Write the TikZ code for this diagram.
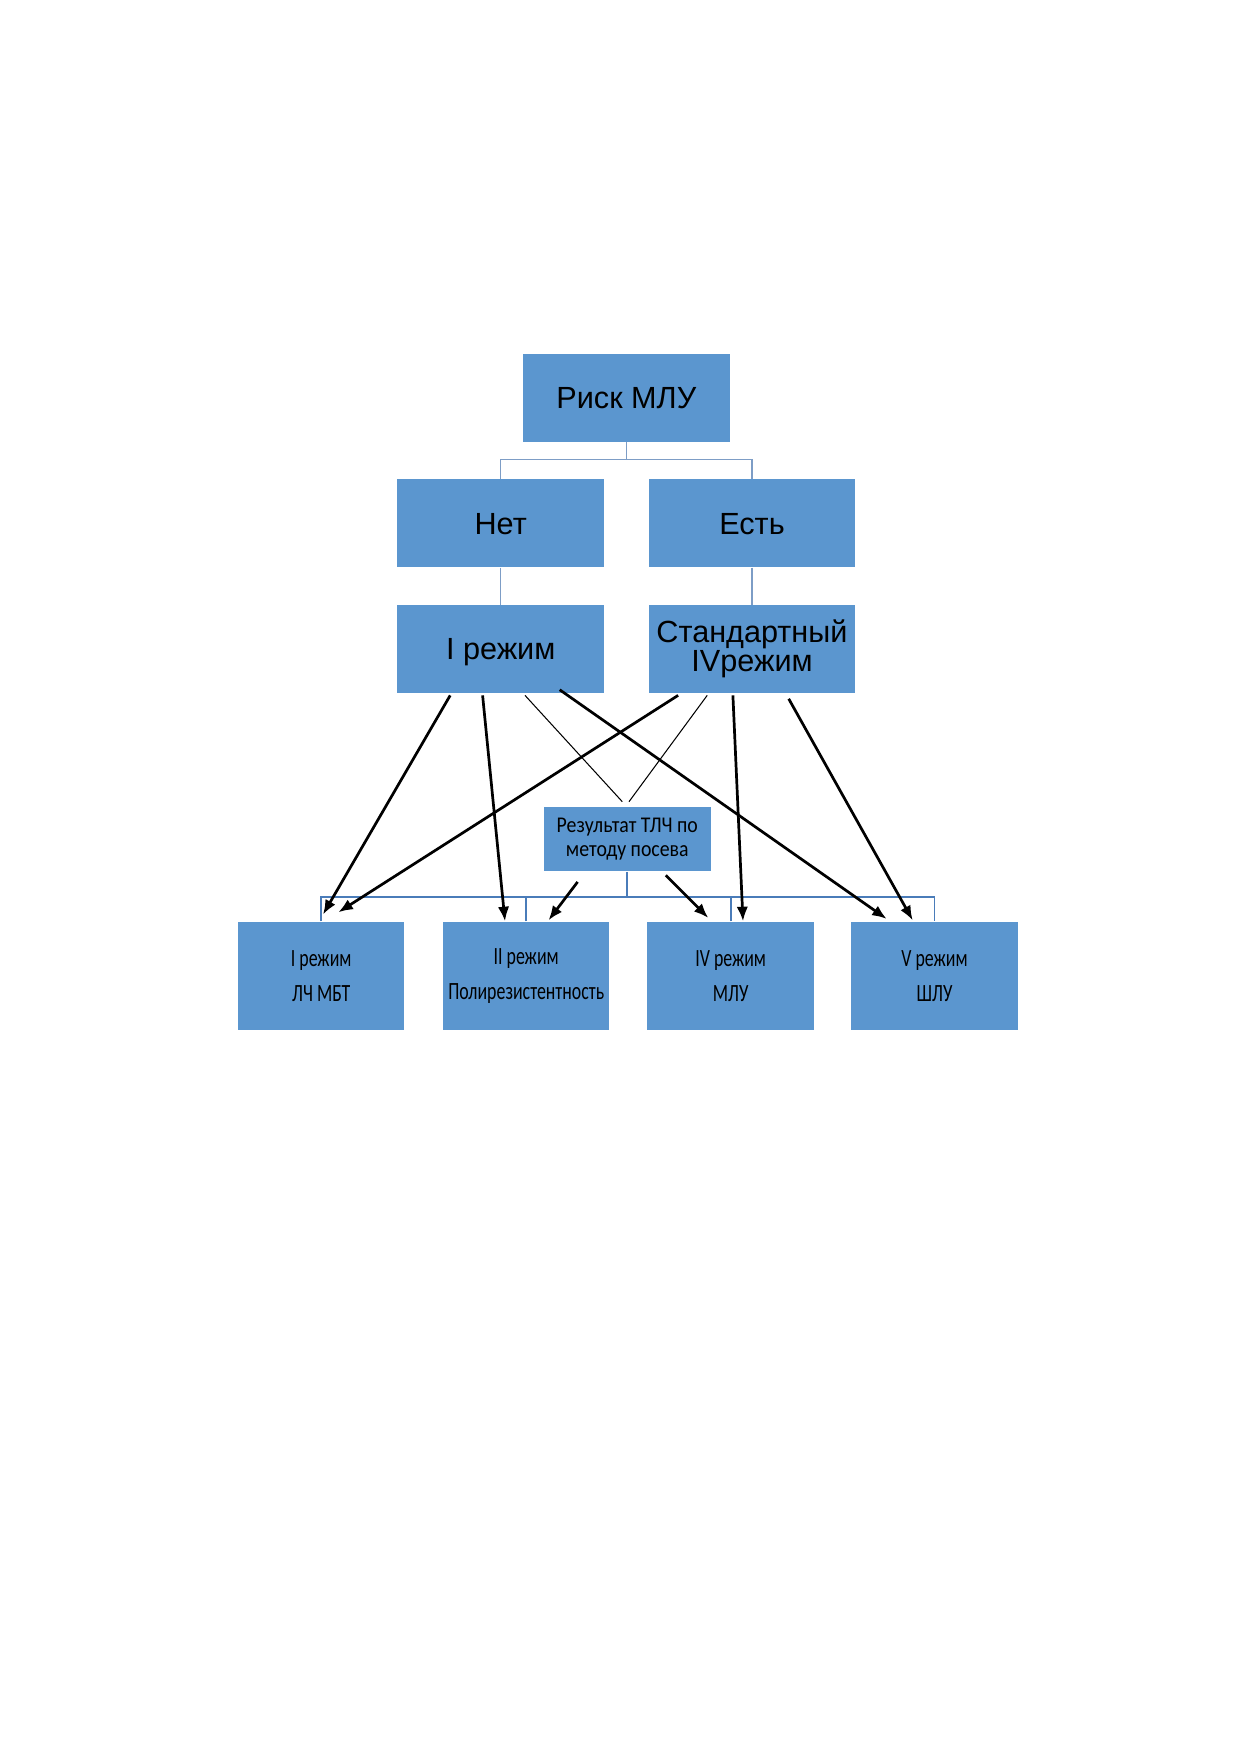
\documentclass[tikz,border=0pt]{standalone}
\usepackage{fontspec}
\setmainfont{Liberation Sans}
\newfontfamily\narrowfont[FakeStretch=0.72]{Carlito}
\newfontfamily\resfont[FakeStretch=0.88]{Carlito}
\usetikzlibrary{arrows.meta,calc}
\definecolor{boxblue}{RGB}{91,150,207}
\definecolor{treeline}{RGB}{125,157,198}
\definecolor{busline}{RGB}{74,124,185}
\begin{document}
\begin{tikzpicture}[x=0.48pt,y=-0.48pt,
  topbox/.style={fill=boxblue,draw=none,minimum width=99.2pt,minimum height=42.1pt,inner sep=0pt,align=center,font=\fontsize{14.7}{13.6}\selectfont},
  oneline/.style={text height=10.5pt,text depth=0pt},
  resbox/.style={fill=boxblue,draw=none,minimum width=79.9pt,minimum height=31.1pt,inner sep=0pt,align=center,font=\resfont\fontsize{10.8}{11.2}\selectfont},
  botbox/.style={fill=boxblue,draw=none,minimum width=79.9pt,minimum height=52pt,inner sep=0pt,align=center,font=\narrowfont\fontsize{11.9}{16.8}\selectfont},
  tree/.style={draw=treeline,line width=0.55pt},
  bus/.style={draw=busline,line width=0.9pt},
  arr/.style={draw=black,line width=1.3pt,-{Latex[length=7pt,width=5.5pt]}},
  thin/.style={draw=black,line width=0.5pt}]
\useasboundingbox (0,0) rectangle (1239,1752);
\fill[white] (0,0) rectangle (1239,1752);

\node[topbox,oneline] (risk) at (626.3,397.8) {Риск МЛУ};
\node[topbox,oneline] (net) at (500.7,523.3) {Нет};
\node[topbox,oneline] (est) at (752,523.3) {Есть};
\node[topbox,oneline] (ireg) at (500.7,648.9) {I режим};
\node[topbox] (std) at (752,648.9) {Стандартный\\IVрежим};
\node[resbox] (res) at (627.3,839) {Результат ТЛЧ по\\методу посева};
\node[botbox] (b1) at (321.2,975.9) {I режим\\ЛЧ МБТ};
\node[botbox] (b2) at (526.2,975.9) {II режим\\Полирезистентность};
\node[botbox] (b3) at (730.7,975.9) {IV режим\\МЛУ};
\node[botbox] (b4) at (934.5,975.9) {V режим\\ШЛУ};

% tree connectors
\coordinate (tj) at (626.3,459.3);
\draw[tree] (risk.south) -- (tj);
\draw[tree] (net.north) |- (tj) -| (est.north);
\draw[tree] (net.south) -- (ireg.north);
\draw[tree] (est.south) -- (std.north);

% bottom bus
\coordinate (bj) at (627.3,897);
\draw[bus] (res.south) -- (bj);
\draw[bus] (b1.north) |- (bj) -| (b4.north);
\draw[bus] (b2.north) -- (b2.north |- bj);
\draw[bus] (b3.north) -- (b3.north |- bj);

% arrows from I режим
\draw[arr] ($(ireg.south)+(-50.5,2.2)$) -- ($(b1.north)+(1.8,-6.8)$);
\draw[arr] ($(ireg.south)+(-18.1,2.2)$) -- ($(b2.north)+(-21.2,0)$);
\draw[thin] ($(ireg.south)+(24.3,2.2)$) -- ($(res.north)+(-5,-4.5)$);
\draw[arr] ($(ireg.south)+(59,-3.4)$) -- ($(b4.north)+(-47.8,-2.4)$);
% arrows from Стандартный
\draw[arr] ($(std.south)+(-73.9,2.2)$) -- ($(b1.north)+(17.1,-9)$);
\draw[thin] ($(std.south)+(-44.8,2.2)$) -- ($(res.north)+(1.7,-4.5)$);
\draw[arr] ($(std.south)+(-19.1,2.2)$) -- ($(b3.north)+(12.3,0)$);
\draw[arr] ($(std.south)+(36.7,5.6)$) -- ($(b4.north)+(-21.8,-1)$);
% arrows from Результат
\draw[arr] ($(res.south)+(-49.7,10.1)$) -- ($(b2.north)+(22.3,-1)$);
\draw[arr] ($(res.south)+(38.5,3.4)$) -- ($(b3.north)+(-22.4,-3.4)$);
\end{tikzpicture}
\end{document}
